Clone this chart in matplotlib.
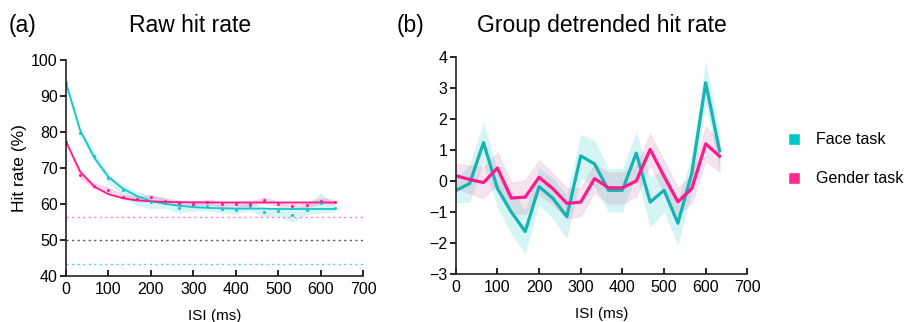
import numpy as np
import matplotlib
matplotlib.use('Agg')
import matplotlib.pyplot as plt
from matplotlib.lines import Line2D

# ISI values (ms)
isi = [0, 33.3, 66.7, 100, 133.3, 166.7, 200, 233.3, 266.7, 300,
       333.3, 366.7, 400, 433.3, 466.7, 500, 533.3, 566.7, 600, 633.3]

# (a) raw hit rate (%)
face_raw = [93.5, 79.6, 73.3, 67.1, 63.8, 61.5, 60.5, 60.3, 58.8, 59.5,
            59.4, 58.5, 58.3, 59.3, 57.7, 57.9, 56.8, 58.3, 60.3, 58.8]
face_raw_err = [1.0, 1.2, 1.3, 1.3, 1.5, 2.0, 1.8, 1.5, 1.3, 1.5,
                1.3, 1.0, 1.0, 1.2, 1.3, 1.3, 2.0, 1.3, 2.8, 1.0]
face_fit = [93.5, 80.5, 72.8, 67.5, 64.3, 62.2, 60.8, 60.0, 59.5, 59.1,
            58.9, 58.8, 58.7, 58.7, 58.7, 58.6, 58.6, 58.6, 58.6, 58.6]
gender_raw = [77.3, 67.9, 65.0, 63.9, 62.0, 61.4, 61.8, 60.9, 60.2, 60.0,
              60.6, 60.0, 60.0, 60.0, 61.1, 60.0, 59.3, 59.7, 60.9, 60.5]
gender_raw_err = [0.8, 0.9, 0.9, 0.8, 0.8, 0.8, 0.8, 0.8, 0.8, 0.8,
                  0.8, 0.8, 0.8, 0.8, 0.9, 0.8, 0.8, 0.8, 0.9, 0.8]
gender_fit = [77.3, 69.0, 64.8, 62.7, 61.6, 61.0, 60.7, 60.55, 60.5, 60.45,
              60.4, 60.4, 60.4, 60.4, 60.4, 60.4, 60.4, 60.4, 60.4, 60.4]
chance_gender = 56.3
chance_mid = 50
chance_face = 43.2

# (b) group detrended hit rate
face_det = [-0.31, -0.08, 1.24, -0.24, -1.0, -1.63, -0.18, -0.56, -1.15, 0.81,
            0.55, -0.3, -0.3, 0.9, -0.68, -0.3, -1.36, 0.25, 3.17, 0.97]
face_det_err = [0.4, 0.6, 0.65, 0.6, 0.7, 0.7, 0.6, 0.65, 0.7, 0.7,
                0.75, 0.7, 0.7, 0.7, 0.8, 0.7, 0.7, 0.6, 0.7, 0.6]
gender_det = [0.17, 0.05, -0.05, 0.42, -0.55, -0.52, 0.12, -0.25, -0.72, -0.68,
              0.08, -0.22, -0.22, 0.0, 1.02, 0.15, -0.67, -0.24, 1.2, 0.8]
gender_det_err = [0.4, 0.45, 0.5, 0.5, 0.5, 0.55, 0.55, 0.5, 0.5, 0.45,
                  0.45, 0.5, 0.5, 0.5, 0.5, 0.5, 0.45, 0.45, 0.55, 0.5]

cyan = '#17C6C6'
teal = '#17B3B3'
pink = '#FF1A8C'

plt.rcParams['font.family'] = ['Liberation Sans', 'DejaVu Sans']

fig = plt.figure(figsize=(9.17, 3.22), dpi=100)
ax1 = fig.add_axes([0.072, 0.143, 0.324, 0.671])
ax2 = fig.add_axes([0.497, 0.149, 0.318, 0.674])

x = np.array(isi)

# ---- (a) raw hit rate
for y, e, col in [(face_raw, face_raw_err, cyan), (gender_raw, gender_raw_err, pink)]:
    y = np.array(y); e = np.array(e)
    ax1.fill_between(x, y - e, y + e, color=col, alpha=0.18, lw=0)
ax1.plot(x, face_fit, color=cyan, lw=1.3)
ax1.plot(x, gender_fit, color=pink, lw=1.3)
ax1.plot(x, face_raw, 'o', color=cyan, ms=2.2, mew=0)
ax1.plot(x, gender_raw, 'o', color=pink, ms=2.2, mew=0)
ax1.axhline(chance_gender, color='#FF7FBF', ls=(0, (1.5, 2.5)), lw=1)
ax1.axhline(chance_mid, color='#555555', ls=(0, (1.5, 2.5)), lw=1)
ax1.axhline(chance_face, color='#40D8E8', ls=(0, (1.5, 2.5)), lw=1)
ax1.set_xlim(0, 700)
ax1.set_ylim(40, 100)
ax1.set_yticks([40, 50, 60, 70, 80, 90, 100])
ax1.set_ylabel('Hit rate (%)', fontsize=12.5, labelpad=3)

# ---- (b) detrended
fd = np.array(face_det); fe = np.array(face_det_err)
gd = np.array(gender_det); ge = np.array(gender_det_err)
ax2.fill_between(x, fd - fe, fd + fe, color='#30CCCC', alpha=0.2, lw=0)
ax2.fill_between(x, gd - ge, gd + ge, color='#C06AA8', alpha=0.18,
                 edgecolor='#FF9CCB', lw=1.2)
ax2.plot(x, face_det, color=teal, lw=2.3)
ax2.plot(x, gender_det, color=pink, lw=2.3)
ax2.set_xlim(0, 700)
ax2.set_ylim(-3, 4)
ax2.set_yticks(range(-3, 5))

for ax in (ax1, ax2):
    ax.set_xticks(range(0, 701, 100))
    for s in ('top', 'right'):
        ax.spines[s].set_visible(False)
    for s in ('left', 'bottom'):
        ax.spines[s].set_linewidth(1.2)
        ax.spines[s].set_color('#222222')
    ax.tick_params(axis='x', direction='in', length=4, width=1.2, labelsize=11.5, pad=4)
    ax.tick_params(axis='y', direction='out', length=4, width=1.2, labelsize=11.5, pad=2)
    ax.set_xlabel('ISI (ms)', fontsize=11, labelpad=9)

fig.text(23 / 917, 1 - 32 / 322, '(a)', fontsize=16.5, ha='center', va='baseline')
fig.text(190 / 917, 1 - 32 / 322, 'Raw hit rate', fontsize=16.5, ha='center', va='baseline')
fig.text(411 / 917, 1 - 32 / 322, '(b)', fontsize=16.5, ha='center', va='baseline')
fig.text(602 / 917, 1 - 32 / 322, 'Group detrended hit rate', fontsize=16.5, ha='center', va='baseline')

handles = [
    Line2D([0], [0], marker='s', color='w', markerfacecolor='#00C8C8', markersize=9, label='Face task'),
    Line2D([0], [0], marker='s', color='w', markerfacecolor='#FF2A8F', markersize=9, label='Gender task'),
]
fig.legend(handles=handles, loc='upper left', bbox_to_anchor=(770 / 917, 1 - 118 / 322),
           frameon=False, fontsize=11.5, handlelength=1.2, handletextpad=0.8,
           labelspacing=1.5)

fig.savefig('out.png', dpi=100)
